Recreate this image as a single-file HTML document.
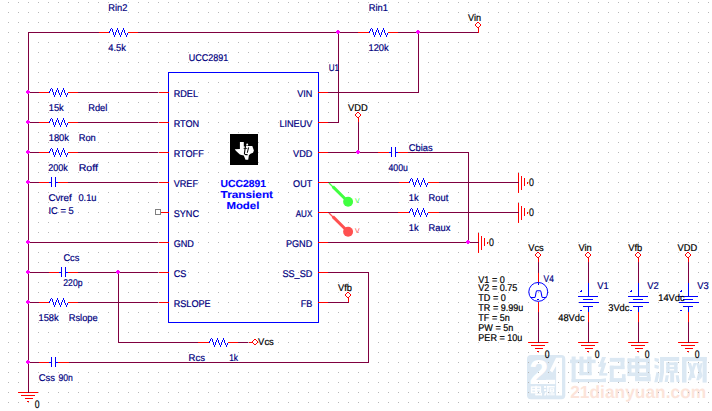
<!DOCTYPE html>
<html><head><meta charset="utf-8"><title>UCC2891 schematic</title>
<style>
html,body{margin:0;padding:0;background:#fff;}
body{width:712px;height:411px;overflow:hidden;}
svg{display:block;font-family:"Liberation Sans",sans-serif;}
text{text-rendering:geometricPrecision;}
</style></head><body>
<svg width="712" height="411" viewBox="0 0 712 411">
<defs><pattern id="grid" x="0" y="0" width="10" height="10" patternUnits="userSpaceOnUse"><rect x="8" y="2" width="1" height="1" fill="#b8b8b8"/></pattern></defs>
<rect width="712" height="411" fill="#fff"/>
<g id="wm">
<rect x="527" y="355" width="38.3" height="44.3" rx="4" fill="#dbe8f3"/>
<text x="529.3" y="384.1" fill="#fff" font-size="34.5" font-weight="bold">2</text>
<polygon points="556.1,357.8 562,357.8 562,395.5 556.1,395.5 556.1,366 552.3,372.5 549.8,370.5" fill="#fff"/>
<rect x="546" y="379.8" width="9.2" height="4.3" fill="#fff"/>
<rect x="530.8" y="386.3" width="10.3" height="7.0" fill="#fff"/>
<rect x="532.3" y="387.8" width="2.9" height="1.1" fill="#dbe8f3"/>
<rect x="532.3" y="390.6" width="2.9" height="1.1" fill="#dbe8f3"/>
<rect x="537.0" y="387.8" width="2.9" height="1.1" fill="#dbe8f3"/>
<rect x="537.0" y="390.6" width="2.9" height="1.1" fill="#dbe8f3"/>
<rect x="535.4" y="385.7" width="1.3" height="9.5" fill="#fff"/>
<rect x="535.4" y="394.0" width="6.6" height="1.4" fill="#fff"/>
<rect x="540.8" y="392.8" width="1.2" height="2.6" fill="#fff"/>
<rect x="544.0" y="386.0" width="2.2" height="1.9" fill="#fff"/>
<rect x="544.0" y="389.2" width="2.2" height="1.9" fill="#fff"/>
<polygon points="544,395.4 545.2,392.2 546.9,392.2 545.9,395.4" fill="#fff"/>
<rect x="547.2" y="386.0" width="7.5" height="1.5" fill="#fff"/>
<rect x="547.2" y="386.0" width="1.5" height="9.4" fill="#fff"/>
<rect x="549.6" y="388.3" width="4.6" height="4.0" fill="#fff"/>
<rect x="550.8" y="389.4" width="2.2" height="0.8" fill="#dbe8f3"/>
<rect x="550.8" y="390.9" width="2.2" height="0.5" fill="#dbe8f3"/>
<rect x="551.3" y="392.3" width="1.4" height="3.1" fill="#fff"/>
<rect x="549.4" y="393.2" width="1.2" height="2.2" fill="#fff"/>
<rect x="553.3" y="393.2" width="1.2" height="2.2" fill="#fff"/>
<rect x="570.04" y="359.55" width="25.62" height="3.60" fill="#dbe8f3"/>
<rect x="571.62" y="356.52" width="4.04" height="25.62" fill="#dbe8f3"/>
<rect x="579.48" y="356.52" width="4.04" height="18.65" fill="#dbe8f3"/>
<rect x="587.12" y="356.52" width="4.49" height="18.65" fill="#dbe8f3"/>
<rect x="579.48" y="372.02" width="12.13" height="3.15" fill="#dbe8f3"/>
<rect x="571.62" y="378.99" width="34.38" height="3.15" fill="#dbe8f3"/>
<polygon points="602.00,357.00 606.00,357.00 602.00,366.80 598.50,366.80" fill="#dbe8f3"/>
<polygon points="598.50,364.60 604.50,364.60 603.40,366.80 598.50,366.80" fill="#dbe8f3"/>
<polygon points="602.90,362.80 606.40,362.80 602.90,373.60 599.10,373.60" fill="#dbe8f3"/>
<polygon points="599.10,373.10 607.30,373.10 607.30,375.60 599.10,375.60" fill="#dbe8f3"/>
<polygon points="596.60,379.40 606.00,378.20 606.00,381.60 596.60,382.10" fill="#dbe8f3"/>
<rect x="609.82" y="357.87" width="14.61" height="3.93" fill="#dbe8f3"/>
<rect x="620.49" y="357.87" width="3.93" height="11.24" fill="#dbe8f3"/>
<rect x="609.82" y="365.73" width="14.61" height="3.37" fill="#dbe8f3"/>
<rect x="609.82" y="365.73" width="3.93" height="16.29" fill="#dbe8f3"/>
<rect x="609.82" y="378.09" width="15.73" height="3.93" fill="#dbe8f3"/>
<rect x="621.96" y="374.16" width="3.60" height="7.87" fill="#dbe8f3"/>
<rect x="627.57" y="358.43" width="3.93" height="17.64" fill="#dbe8f3"/>
<rect x="627.51" y="358.43" width="22.47" height="3.71" fill="#dbe8f3"/>
<rect x="646.04" y="358.43" width="3.93" height="17.64" fill="#dbe8f3"/>
<rect x="627.51" y="365.17" width="22.47" height="3.37" fill="#dbe8f3"/>
<rect x="627.51" y="372.47" width="22.47" height="3.60" fill="#dbe8f3"/>
<rect x="635.15" y="356.18" width="4.27" height="24.16" fill="#dbe8f3"/>
<rect x="635.15" y="376.97" width="15.39" height="4.27" fill="#dbe8f3"/>
<rect x="646.83" y="374.16" width="3.71" height="7.08" fill="#dbe8f3"/>
<polygon points="654.47,357.64 658.97,358.76 658.52,362.13 654.47,361.01" fill="#dbe8f3"/>
<polygon points="654.47,364.61 658.97,365.73 658.52,369.10 654.47,367.98" fill="#dbe8f3"/>
<polygon points="656.49,371.91 659.53,373.03 657.62,382.36 654.25,382.36" fill="#dbe8f3"/>
<rect x="660.09" y="356.97" width="19.10" height="4.04" fill="#dbe8f3"/>
<polygon points="660.09,356.97 664.02,356.97 664.02,372.47 662.34,382.36 658.74,382.36 660.09,372.47" fill="#dbe8f3"/>
<rect x="666.27" y="362.36" width="11.24" height="2.81" fill="#dbe8f3"/>
<rect x="666.27" y="362.36" width="3.37" height="10.67" fill="#dbe8f3"/>
<rect x="674.13" y="362.36" width="3.37" height="10.67" fill="#dbe8f3"/>
<rect x="666.27" y="366.85" width="11.24" height="2.25" fill="#dbe8f3"/>
<rect x="666.27" y="370.45" width="11.24" height="2.58" fill="#dbe8f3"/>
<rect x="670.20" y="372.47" width="3.93" height="9.89" fill="#dbe8f3"/>
<polygon points="665.71,375.28 668.85,375.28 667.73,382.02 664.58,382.02" fill="#dbe8f3"/>
<polygon points="675.60,375.28 678.63,375.28 679.75,382.02 676.72,382.02" fill="#dbe8f3"/>
<rect x="682.00" y="356.97" width="4.49" height="25.62" fill="#dbe8f3"/>
<rect x="682.00" y="356.97" width="24.72" height="4.27" fill="#dbe8f3"/>
<rect x="702.56" y="356.97" width="4.16" height="25.62" fill="#dbe8f3"/>
<polygon points="687.62,362.92 690.99,362.92 695.48,378.09 692.11,378.09" fill="#dbe8f3"/>
<polygon points="693.57,362.92 696.61,362.92 690.99,380.34 687.84,380.34" fill="#dbe8f3"/>
<polygon points="696.04,362.92 699.19,362.92 702.56,375.84 700.54,379.44" fill="#dbe8f3"/>
<polygon points="700.54,362.92 702.56,362.92 699.42,380.34 696.27,380.34" fill="#dbe8f3"/>
<text x="570.2" y="397.9" fill="#fce4da" font-size="17.5" font-weight="bold" textLength="136" lengthAdjust="spacingAndGlyphs">21dianyuan.com</text>
</g>
<rect width="712" height="411" fill="url(#grid)"/>
<g id="lines" transform="translate(0.5,0.5)" shape-rendering="crispEdges">
<rect x="97.5" y="31.5" width="11" height="1" fill="#ff0000"/>
<rect x="127.5" y="31.5" width="11" height="1" fill="#ff0000"/>
<rect x="108.5" y="30.5" width="1" height="2" fill="#0000ff"/>
<rect x="109.5" y="28.5" width="1" height="2" fill="#0000ff"/>
<rect x="110.5" y="27.5" width="1" height="1" fill="#0000ff"/>
<rect x="111.5" y="28.5" width="1" height="3" fill="#0000ff"/>
<rect x="112.5" y="31.5" width="1" height="3" fill="#0000ff"/>
<rect x="113.5" y="34.5" width="1" height="2" fill="#0000ff"/>
<rect x="114.5" y="31.5" width="1" height="3" fill="#0000ff"/>
<rect x="115.5" y="29.5" width="1" height="2" fill="#0000ff"/>
<rect x="116.5" y="27.5" width="1" height="2" fill="#0000ff"/>
<rect x="117.5" y="29.5" width="1" height="3" fill="#0000ff"/>
<rect x="118.5" y="32.5" width="1" height="2" fill="#0000ff"/>
<rect x="119.5" y="34.5" width="1" height="2" fill="#0000ff"/>
<rect x="120.5" y="31.5" width="1" height="3" fill="#0000ff"/>
<rect x="121.5" y="29.5" width="1" height="2" fill="#0000ff"/>
<rect x="122.5" y="27.5" width="1" height="2" fill="#0000ff"/>
<rect x="123.5" y="29.5" width="1" height="3" fill="#0000ff"/>
<rect x="124.5" y="32.5" width="1" height="2" fill="#0000ff"/>
<rect x="125.5" y="34.5" width="1" height="2" fill="#0000ff"/>
<rect x="126.5" y="32.5" width="1" height="2" fill="#0000ff"/>
<rect x="357.5" y="31.5" width="11" height="1" fill="#ff0000"/>
<rect x="387.5" y="31.5" width="11" height="1" fill="#ff0000"/>
<rect x="368.5" y="30.5" width="1" height="2" fill="#0000ff"/>
<rect x="369.5" y="28.5" width="1" height="2" fill="#0000ff"/>
<rect x="370.5" y="27.5" width="1" height="1" fill="#0000ff"/>
<rect x="371.5" y="28.5" width="1" height="3" fill="#0000ff"/>
<rect x="372.5" y="31.5" width="1" height="3" fill="#0000ff"/>
<rect x="373.5" y="34.5" width="1" height="2" fill="#0000ff"/>
<rect x="374.5" y="31.5" width="1" height="3" fill="#0000ff"/>
<rect x="375.5" y="29.5" width="1" height="2" fill="#0000ff"/>
<rect x="376.5" y="27.5" width="1" height="2" fill="#0000ff"/>
<rect x="377.5" y="29.5" width="1" height="3" fill="#0000ff"/>
<rect x="378.5" y="32.5" width="1" height="2" fill="#0000ff"/>
<rect x="379.5" y="34.5" width="1" height="2" fill="#0000ff"/>
<rect x="380.5" y="31.5" width="1" height="3" fill="#0000ff"/>
<rect x="381.5" y="29.5" width="1" height="2" fill="#0000ff"/>
<rect x="382.5" y="27.5" width="1" height="2" fill="#0000ff"/>
<rect x="383.5" y="29.5" width="1" height="3" fill="#0000ff"/>
<rect x="384.5" y="32.5" width="1" height="2" fill="#0000ff"/>
<rect x="385.5" y="34.5" width="1" height="2" fill="#0000ff"/>
<rect x="386.5" y="32.5" width="1" height="2" fill="#0000ff"/>
<rect x="477.5" y="27.5" width="1" height="5" fill="#ff0000"/>
<rect x="37.5" y="91.5" width="11" height="1" fill="#ff0000"/>
<rect x="67.5" y="91.5" width="11" height="1" fill="#ff0000"/>
<rect x="48.5" y="90.5" width="1" height="2" fill="#0000ff"/>
<rect x="49.5" y="88.5" width="1" height="2" fill="#0000ff"/>
<rect x="50.5" y="87.5" width="1" height="1" fill="#0000ff"/>
<rect x="51.5" y="88.5" width="1" height="3" fill="#0000ff"/>
<rect x="52.5" y="91.5" width="1" height="3" fill="#0000ff"/>
<rect x="53.5" y="94.5" width="1" height="2" fill="#0000ff"/>
<rect x="54.5" y="91.5" width="1" height="3" fill="#0000ff"/>
<rect x="55.5" y="89.5" width="1" height="2" fill="#0000ff"/>
<rect x="56.5" y="87.5" width="1" height="2" fill="#0000ff"/>
<rect x="57.5" y="89.5" width="1" height="3" fill="#0000ff"/>
<rect x="58.5" y="92.5" width="1" height="2" fill="#0000ff"/>
<rect x="59.5" y="94.5" width="1" height="2" fill="#0000ff"/>
<rect x="60.5" y="91.5" width="1" height="3" fill="#0000ff"/>
<rect x="61.5" y="89.5" width="1" height="2" fill="#0000ff"/>
<rect x="62.5" y="87.5" width="1" height="2" fill="#0000ff"/>
<rect x="63.5" y="89.5" width="1" height="3" fill="#0000ff"/>
<rect x="64.5" y="92.5" width="1" height="2" fill="#0000ff"/>
<rect x="65.5" y="94.5" width="1" height="2" fill="#0000ff"/>
<rect x="66.5" y="92.5" width="1" height="2" fill="#0000ff"/>
<rect x="37.5" y="121.5" width="11" height="1" fill="#ff0000"/>
<rect x="67.5" y="121.5" width="11" height="1" fill="#ff0000"/>
<rect x="48.5" y="120.5" width="1" height="2" fill="#0000ff"/>
<rect x="49.5" y="118.5" width="1" height="2" fill="#0000ff"/>
<rect x="50.5" y="117.5" width="1" height="1" fill="#0000ff"/>
<rect x="51.5" y="118.5" width="1" height="3" fill="#0000ff"/>
<rect x="52.5" y="121.5" width="1" height="3" fill="#0000ff"/>
<rect x="53.5" y="124.5" width="1" height="2" fill="#0000ff"/>
<rect x="54.5" y="121.5" width="1" height="3" fill="#0000ff"/>
<rect x="55.5" y="119.5" width="1" height="2" fill="#0000ff"/>
<rect x="56.5" y="117.5" width="1" height="2" fill="#0000ff"/>
<rect x="57.5" y="119.5" width="1" height="3" fill="#0000ff"/>
<rect x="58.5" y="122.5" width="1" height="2" fill="#0000ff"/>
<rect x="59.5" y="124.5" width="1" height="2" fill="#0000ff"/>
<rect x="60.5" y="121.5" width="1" height="3" fill="#0000ff"/>
<rect x="61.5" y="119.5" width="1" height="2" fill="#0000ff"/>
<rect x="62.5" y="117.5" width="1" height="2" fill="#0000ff"/>
<rect x="63.5" y="119.5" width="1" height="3" fill="#0000ff"/>
<rect x="64.5" y="122.5" width="1" height="2" fill="#0000ff"/>
<rect x="65.5" y="124.5" width="1" height="2" fill="#0000ff"/>
<rect x="66.5" y="122.5" width="1" height="2" fill="#0000ff"/>
<rect x="37.5" y="151.5" width="11" height="1" fill="#ff0000"/>
<rect x="67.5" y="151.5" width="11" height="1" fill="#ff0000"/>
<rect x="48.5" y="150.5" width="1" height="2" fill="#0000ff"/>
<rect x="49.5" y="148.5" width="1" height="2" fill="#0000ff"/>
<rect x="50.5" y="147.5" width="1" height="1" fill="#0000ff"/>
<rect x="51.5" y="148.5" width="1" height="3" fill="#0000ff"/>
<rect x="52.5" y="151.5" width="1" height="3" fill="#0000ff"/>
<rect x="53.5" y="154.5" width="1" height="2" fill="#0000ff"/>
<rect x="54.5" y="151.5" width="1" height="3" fill="#0000ff"/>
<rect x="55.5" y="149.5" width="1" height="2" fill="#0000ff"/>
<rect x="56.5" y="147.5" width="1" height="2" fill="#0000ff"/>
<rect x="57.5" y="149.5" width="1" height="3" fill="#0000ff"/>
<rect x="58.5" y="152.5" width="1" height="2" fill="#0000ff"/>
<rect x="59.5" y="154.5" width="1" height="2" fill="#0000ff"/>
<rect x="60.5" y="151.5" width="1" height="3" fill="#0000ff"/>
<rect x="61.5" y="149.5" width="1" height="2" fill="#0000ff"/>
<rect x="62.5" y="147.5" width="1" height="2" fill="#0000ff"/>
<rect x="63.5" y="149.5" width="1" height="3" fill="#0000ff"/>
<rect x="64.5" y="152.5" width="1" height="2" fill="#0000ff"/>
<rect x="65.5" y="154.5" width="1" height="2" fill="#0000ff"/>
<rect x="66.5" y="152.5" width="1" height="2" fill="#0000ff"/>
<rect x="37.5" y="301.5" width="11" height="1" fill="#ff0000"/>
<rect x="67.5" y="301.5" width="11" height="1" fill="#ff0000"/>
<rect x="48.5" y="300.5" width="1" height="2" fill="#0000ff"/>
<rect x="49.5" y="298.5" width="1" height="2" fill="#0000ff"/>
<rect x="50.5" y="297.5" width="1" height="1" fill="#0000ff"/>
<rect x="51.5" y="298.5" width="1" height="3" fill="#0000ff"/>
<rect x="52.5" y="301.5" width="1" height="3" fill="#0000ff"/>
<rect x="53.5" y="304.5" width="1" height="2" fill="#0000ff"/>
<rect x="54.5" y="301.5" width="1" height="3" fill="#0000ff"/>
<rect x="55.5" y="299.5" width="1" height="2" fill="#0000ff"/>
<rect x="56.5" y="297.5" width="1" height="2" fill="#0000ff"/>
<rect x="57.5" y="299.5" width="1" height="3" fill="#0000ff"/>
<rect x="58.5" y="302.5" width="1" height="2" fill="#0000ff"/>
<rect x="59.5" y="304.5" width="1" height="2" fill="#0000ff"/>
<rect x="60.5" y="301.5" width="1" height="3" fill="#0000ff"/>
<rect x="61.5" y="299.5" width="1" height="2" fill="#0000ff"/>
<rect x="62.5" y="297.5" width="1" height="2" fill="#0000ff"/>
<rect x="63.5" y="299.5" width="1" height="3" fill="#0000ff"/>
<rect x="64.5" y="302.5" width="1" height="2" fill="#0000ff"/>
<rect x="65.5" y="304.5" width="1" height="2" fill="#0000ff"/>
<rect x="66.5" y="302.5" width="1" height="2" fill="#0000ff"/>
<rect x="37.5" y="181.5" width="11" height="1" fill="#ff0000"/>
<rect x="48.5" y="181.5" width="3" height="1" fill="#0000ff"/>
<rect x="50.5" y="176.5" width="1" height="10" fill="#0000ff"/>
<rect x="54.5" y="176.5" width="1" height="10" fill="#0000ff"/>
<rect x="54.5" y="181.5" width="4" height="1" fill="#0000ff"/>
<rect x="57.5" y="181.5" width="11" height="1" fill="#ff0000"/>
<rect x="47.5" y="271.5" width="11" height="1" fill="#ff0000"/>
<rect x="58.5" y="271.5" width="3" height="1" fill="#0000ff"/>
<rect x="60.5" y="266.5" width="1" height="10" fill="#0000ff"/>
<rect x="64.5" y="266.5" width="1" height="10" fill="#0000ff"/>
<rect x="64.5" y="271.5" width="4" height="1" fill="#0000ff"/>
<rect x="67.5" y="271.5" width="11" height="1" fill="#ff0000"/>
<rect x="197.5" y="341.5" width="11" height="1" fill="#ff0000"/>
<rect x="227.5" y="341.5" width="11" height="1" fill="#ff0000"/>
<rect x="208.5" y="340.5" width="1" height="2" fill="#0000ff"/>
<rect x="209.5" y="338.5" width="1" height="2" fill="#0000ff"/>
<rect x="210.5" y="337.5" width="1" height="1" fill="#0000ff"/>
<rect x="211.5" y="338.5" width="1" height="3" fill="#0000ff"/>
<rect x="212.5" y="341.5" width="1" height="3" fill="#0000ff"/>
<rect x="213.5" y="344.5" width="1" height="2" fill="#0000ff"/>
<rect x="214.5" y="341.5" width="1" height="3" fill="#0000ff"/>
<rect x="215.5" y="339.5" width="1" height="2" fill="#0000ff"/>
<rect x="216.5" y="337.5" width="1" height="2" fill="#0000ff"/>
<rect x="217.5" y="339.5" width="1" height="3" fill="#0000ff"/>
<rect x="218.5" y="342.5" width="1" height="2" fill="#0000ff"/>
<rect x="219.5" y="344.5" width="1" height="2" fill="#0000ff"/>
<rect x="220.5" y="341.5" width="1" height="3" fill="#0000ff"/>
<rect x="221.5" y="339.5" width="1" height="2" fill="#0000ff"/>
<rect x="222.5" y="337.5" width="1" height="2" fill="#0000ff"/>
<rect x="223.5" y="339.5" width="1" height="3" fill="#0000ff"/>
<rect x="224.5" y="342.5" width="1" height="2" fill="#0000ff"/>
<rect x="225.5" y="344.5" width="1" height="2" fill="#0000ff"/>
<rect x="226.5" y="342.5" width="1" height="2" fill="#0000ff"/>
<rect x="248.5" y="341.5" width="4" height="1" fill="#ff0000"/>
<rect x="37.5" y="361.5" width="11" height="1" fill="#ff0000"/>
<rect x="48.5" y="361.5" width="3" height="1" fill="#0000ff"/>
<rect x="50.5" y="356.5" width="1" height="10" fill="#0000ff"/>
<rect x="54.5" y="356.5" width="1" height="10" fill="#0000ff"/>
<rect x="54.5" y="361.5" width="4" height="1" fill="#0000ff"/>
<rect x="57.5" y="361.5" width="11" height="1" fill="#ff0000"/>
<rect x="347.5" y="297.5" width="1" height="5" fill="#ff0000"/>
<rect x="377.5" y="151.5" width="11" height="1" fill="#ff0000"/>
<rect x="388.5" y="151.5" width="3" height="1" fill="#0000ff"/>
<rect x="390.5" y="146.5" width="1" height="10" fill="#0000ff"/>
<rect x="394.5" y="146.5" width="1" height="10" fill="#0000ff"/>
<rect x="394.5" y="151.5" width="4" height="1" fill="#0000ff"/>
<rect x="397.5" y="151.5" width="11" height="1" fill="#ff0000"/>
<rect x="357.5" y="117.5" width="1" height="5" fill="#ff0000"/>
<rect x="397.5" y="181.5" width="11" height="1" fill="#ff0000"/>
<rect x="427.5" y="181.5" width="11" height="1" fill="#ff0000"/>
<rect x="408.5" y="180.5" width="1" height="2" fill="#0000ff"/>
<rect x="409.5" y="178.5" width="1" height="2" fill="#0000ff"/>
<rect x="410.5" y="177.5" width="1" height="1" fill="#0000ff"/>
<rect x="411.5" y="178.5" width="1" height="3" fill="#0000ff"/>
<rect x="412.5" y="181.5" width="1" height="3" fill="#0000ff"/>
<rect x="413.5" y="184.5" width="1" height="2" fill="#0000ff"/>
<rect x="414.5" y="181.5" width="1" height="3" fill="#0000ff"/>
<rect x="415.5" y="179.5" width="1" height="2" fill="#0000ff"/>
<rect x="416.5" y="177.5" width="1" height="2" fill="#0000ff"/>
<rect x="417.5" y="179.5" width="1" height="3" fill="#0000ff"/>
<rect x="418.5" y="182.5" width="1" height="2" fill="#0000ff"/>
<rect x="419.5" y="184.5" width="1" height="2" fill="#0000ff"/>
<rect x="420.5" y="181.5" width="1" height="3" fill="#0000ff"/>
<rect x="421.5" y="179.5" width="1" height="2" fill="#0000ff"/>
<rect x="422.5" y="177.5" width="1" height="2" fill="#0000ff"/>
<rect x="423.5" y="179.5" width="1" height="3" fill="#0000ff"/>
<rect x="424.5" y="182.5" width="1" height="2" fill="#0000ff"/>
<rect x="425.5" y="184.5" width="1" height="2" fill="#0000ff"/>
<rect x="426.5" y="182.5" width="1" height="2" fill="#0000ff"/>
<rect x="517.5" y="172.5" width="1" height="20" fill="#ff0000"/>
<rect x="520.5" y="175.5" width="1" height="14" fill="#ff0000"/>
<rect x="523.5" y="177.5" width="1" height="8" fill="#ff0000"/>
<rect x="526.5" y="181.5" width="1" height="2" fill="#ff0000"/>
<rect x="397.5" y="211.5" width="11" height="1" fill="#ff0000"/>
<rect x="427.5" y="211.5" width="11" height="1" fill="#ff0000"/>
<rect x="408.5" y="210.5" width="1" height="2" fill="#0000ff"/>
<rect x="409.5" y="208.5" width="1" height="2" fill="#0000ff"/>
<rect x="410.5" y="207.5" width="1" height="1" fill="#0000ff"/>
<rect x="411.5" y="208.5" width="1" height="3" fill="#0000ff"/>
<rect x="412.5" y="211.5" width="1" height="3" fill="#0000ff"/>
<rect x="413.5" y="214.5" width="1" height="2" fill="#0000ff"/>
<rect x="414.5" y="211.5" width="1" height="3" fill="#0000ff"/>
<rect x="415.5" y="209.5" width="1" height="2" fill="#0000ff"/>
<rect x="416.5" y="207.5" width="1" height="2" fill="#0000ff"/>
<rect x="417.5" y="209.5" width="1" height="3" fill="#0000ff"/>
<rect x="418.5" y="212.5" width="1" height="2" fill="#0000ff"/>
<rect x="419.5" y="214.5" width="1" height="2" fill="#0000ff"/>
<rect x="420.5" y="211.5" width="1" height="3" fill="#0000ff"/>
<rect x="421.5" y="209.5" width="1" height="2" fill="#0000ff"/>
<rect x="422.5" y="207.5" width="1" height="2" fill="#0000ff"/>
<rect x="423.5" y="209.5" width="1" height="3" fill="#0000ff"/>
<rect x="424.5" y="212.5" width="1" height="2" fill="#0000ff"/>
<rect x="425.5" y="214.5" width="1" height="2" fill="#0000ff"/>
<rect x="426.5" y="212.5" width="1" height="2" fill="#0000ff"/>
<rect x="517.5" y="202.5" width="1" height="20" fill="#ff0000"/>
<rect x="520.5" y="205.5" width="1" height="14" fill="#ff0000"/>
<rect x="523.5" y="207.5" width="1" height="8" fill="#ff0000"/>
<rect x="526.5" y="211.5" width="1" height="2" fill="#ff0000"/>
<rect x="477.5" y="232.5" width="1" height="20" fill="#ff0000"/>
<rect x="480.5" y="235.5" width="1" height="14" fill="#ff0000"/>
<rect x="483.5" y="237.5" width="1" height="8" fill="#ff0000"/>
<rect x="486.5" y="241.5" width="1" height="2" fill="#ff0000"/>
<rect x="168" y="72" width="150" height="250" fill="none" stroke="#0000ff" stroke-width="1"/>
<rect x="158.5" y="91.5" width="10" height="1" fill="#ff0000"/>
<rect x="317.5" y="91.5" width="11" height="1" fill="#ff0000"/>
<rect x="158.5" y="121.5" width="10" height="1" fill="#ff0000"/>
<rect x="317.5" y="121.5" width="11" height="1" fill="#ff0000"/>
<rect x="158.5" y="151.5" width="10" height="1" fill="#ff0000"/>
<rect x="317.5" y="151.5" width="11" height="1" fill="#ff0000"/>
<rect x="158.5" y="181.5" width="10" height="1" fill="#ff0000"/>
<rect x="317.5" y="181.5" width="11" height="1" fill="#ff0000"/>
<rect x="160.5" y="211.5" width="8" height="1" fill="#ff0000"/>
<rect x="155" y="209" width="5" height="5" fill="#fff" stroke="#808080" stroke-width="1"/>
<rect x="317.5" y="211.5" width="11" height="1" fill="#ff0000"/>
<rect x="158.5" y="241.5" width="10" height="1" fill="#ff0000"/>
<rect x="317.5" y="241.5" width="11" height="1" fill="#ff0000"/>
<rect x="158.5" y="271.5" width="10" height="1" fill="#ff0000"/>
<rect x="317.5" y="271.5" width="11" height="1" fill="#ff0000"/>
<rect x="158.5" y="301.5" width="10" height="1" fill="#ff0000"/>
<rect x="317.5" y="301.5" width="11" height="1" fill="#ff0000"/>
<rect x="17.5" y="391.5" width="20" height="1" fill="#ff0000"/>
<rect x="20.5" y="394.5" width="14" height="1" fill="#ff0000"/>
<rect x="24.5" y="397.5" width="8" height="1" fill="#ff0000"/>
<rect x="26.5" y="400.5" width="2" height="1" fill="#ff0000"/>
<rect x="537.5" y="257.5" width="1" height="5" fill="#ff0000"/>
<rect x="537.5" y="271.5" width="1" height="11" fill="#ff0000"/>
<rect x="537.5" y="282.5" width="1" height="2" fill="#0000ff"/>
<rect x="536.5" y="298.5" width="2" height="1" fill="#0000ff"/>
<rect x="537.5" y="301.5" width="1" height="11" fill="#ff0000"/>
<rect x="527.5" y="341.5" width="20" height="1" fill="#ff0000"/>
<rect x="530.5" y="344.5" width="14" height="1" fill="#ff0000"/>
<rect x="534.5" y="347.5" width="8" height="1" fill="#ff0000"/>
<rect x="536.5" y="350.5" width="2" height="1" fill="#ff0000"/>
<rect x="587.5" y="257.5" width="1" height="5" fill="#ff0000"/>
<rect x="587.5" y="281.5" width="1" height="15" fill="#0000ff"/>
<rect x="577.5" y="295.5" width="20" height="1" fill="#0000ff"/>
<rect x="582.5" y="298.5" width="10" height="1" fill="#0000ff"/>
<rect x="578.5" y="301.5" width="20" height="1" fill="#0000ff"/>
<rect x="582.5" y="305.5" width="10" height="1" fill="#0000ff"/>
<rect x="587.5" y="305.5" width="1" height="7" fill="#0000ff"/>
<rect x="587.5" y="311.5" width="1" height="11" fill="#ff0000"/>
<rect x="580.5" y="289.5" width="1" height="1" fill="#0000ff"/>
<rect x="579.5" y="290.5" width="2" height="1" fill="#0000ff"/>
<rect x="579.5" y="309.5" width="2" height="1" fill="#0000ff"/>
<rect x="577.5" y="341.5" width="20" height="1" fill="#ff0000"/>
<rect x="580.5" y="344.5" width="14" height="1" fill="#ff0000"/>
<rect x="584.5" y="347.5" width="8" height="1" fill="#ff0000"/>
<rect x="586.5" y="350.5" width="2" height="1" fill="#ff0000"/>
<rect x="637.5" y="257.5" width="1" height="5" fill="#ff0000"/>
<rect x="637.5" y="281.5" width="1" height="15" fill="#0000ff"/>
<rect x="627.5" y="295.5" width="20" height="1" fill="#0000ff"/>
<rect x="632.5" y="298.5" width="10" height="1" fill="#0000ff"/>
<rect x="628.5" y="301.5" width="20" height="1" fill="#0000ff"/>
<rect x="632.5" y="305.5" width="10" height="1" fill="#0000ff"/>
<rect x="637.5" y="305.5" width="1" height="7" fill="#0000ff"/>
<rect x="637.5" y="311.5" width="1" height="11" fill="#ff0000"/>
<rect x="630.5" y="289.5" width="1" height="1" fill="#0000ff"/>
<rect x="629.5" y="290.5" width="2" height="1" fill="#0000ff"/>
<rect x="629.5" y="309.5" width="2" height="1" fill="#0000ff"/>
<rect x="627.5" y="341.5" width="20" height="1" fill="#ff0000"/>
<rect x="630.5" y="344.5" width="14" height="1" fill="#ff0000"/>
<rect x="634.5" y="347.5" width="8" height="1" fill="#ff0000"/>
<rect x="636.5" y="350.5" width="2" height="1" fill="#ff0000"/>
<rect x="687.5" y="257.5" width="1" height="5" fill="#ff0000"/>
<rect x="687.5" y="281.5" width="1" height="15" fill="#0000ff"/>
<rect x="677.5" y="295.5" width="20" height="1" fill="#0000ff"/>
<rect x="682.5" y="298.5" width="10" height="1" fill="#0000ff"/>
<rect x="678.5" y="301.5" width="20" height="1" fill="#0000ff"/>
<rect x="682.5" y="305.5" width="10" height="1" fill="#0000ff"/>
<rect x="687.5" y="305.5" width="1" height="7" fill="#0000ff"/>
<rect x="687.5" y="311.5" width="1" height="11" fill="#ff0000"/>
<rect x="680.5" y="289.5" width="1" height="1" fill="#0000ff"/>
<rect x="679.5" y="290.5" width="2" height="1" fill="#0000ff"/>
<rect x="679.5" y="309.5" width="2" height="1" fill="#0000ff"/>
<rect x="677.5" y="341.5" width="20" height="1" fill="#ff0000"/>
<rect x="680.5" y="344.5" width="14" height="1" fill="#ff0000"/>
<rect x="684.5" y="347.5" width="8" height="1" fill="#ff0000"/>
<rect x="686.5" y="350.5" width="2" height="1" fill="#ff0000"/>
<rect x="27.5" y="31.5" width="1" height="361" fill="#800040"/>
<rect x="27.5" y="31.5" width="71" height="1" fill="#800040"/>
<rect x="137.5" y="31.5" width="220" height="1" fill="#800040"/>
<rect x="397.5" y="31.5" width="80" height="1" fill="#800040"/>
<rect x="337.5" y="31.5" width="1" height="91" fill="#800040"/>
<rect x="327.5" y="121.5" width="11" height="1" fill="#800040"/>
<rect x="417.5" y="31.5" width="1" height="61" fill="#800040"/>
<rect x="327.5" y="91.5" width="91" height="1" fill="#800040"/>
<rect x="27.5" y="91.5" width="11" height="1" fill="#800040"/>
<rect x="77.5" y="91.5" width="80" height="1" fill="#800040"/>
<rect x="27.5" y="121.5" width="11" height="1" fill="#800040"/>
<rect x="77.5" y="121.5" width="80" height="1" fill="#800040"/>
<rect x="27.5" y="151.5" width="11" height="1" fill="#800040"/>
<rect x="77.5" y="151.5" width="80" height="1" fill="#800040"/>
<rect x="27.5" y="301.5" width="11" height="1" fill="#800040"/>
<rect x="77.5" y="301.5" width="80" height="1" fill="#800040"/>
<rect x="27.5" y="181.5" width="11" height="1" fill="#800040"/>
<rect x="67.5" y="181.5" width="90" height="1" fill="#800040"/>
<rect x="27.5" y="241.5" width="130" height="1" fill="#800040"/>
<rect x="27.5" y="271.5" width="21" height="1" fill="#800040"/>
<rect x="77.5" y="271.5" width="80" height="1" fill="#800040"/>
<rect x="117.5" y="271.5" width="1" height="71" fill="#800040"/>
<rect x="117.5" y="341.5" width="80" height="1" fill="#800040"/>
<rect x="237.5" y="341.5" width="10" height="1" fill="#800040"/>
<rect x="27.5" y="361.5" width="11" height="1" fill="#800040"/>
<rect x="68.5" y="361.5" width="300" height="1" fill="#800040"/>
<rect x="367.5" y="271.5" width="1" height="91" fill="#800040"/>
<rect x="327.5" y="271.5" width="41" height="1" fill="#800040"/>
<rect x="327.5" y="301.5" width="21" height="1" fill="#800040"/>
<rect x="327.5" y="151.5" width="50" height="1" fill="#800040"/>
<rect x="407.5" y="151.5" width="61" height="1" fill="#800040"/>
<rect x="467.5" y="151.5" width="1" height="91" fill="#800040"/>
<rect x="357.5" y="121.5" width="1" height="31" fill="#800040"/>
<rect x="327.5" y="181.5" width="71" height="1" fill="#800040"/>
<rect x="438.5" y="181.5" width="80" height="1" fill="#800040"/>
<rect x="327.5" y="211.5" width="70" height="1" fill="#800040"/>
<rect x="438.5" y="211.5" width="80" height="1" fill="#800040"/>
<rect x="327.5" y="241.5" width="151" height="1" fill="#800040"/>
<rect x="537.5" y="261.5" width="1" height="11" fill="#800040"/>
<rect x="537.5" y="311.5" width="1" height="31" fill="#800040"/>
<rect x="587.5" y="261.5" width="1" height="21" fill="#800040"/>
<rect x="587.5" y="321.5" width="1" height="21" fill="#800040"/>
<rect x="637.5" y="261.5" width="1" height="21" fill="#800040"/>
<rect x="637.5" y="321.5" width="1" height="21" fill="#800040"/>
<rect x="687.5" y="261.5" width="1" height="21" fill="#800040"/>
<rect x="687.5" y="321.5" width="1" height="21" fill="#800040"/>
<rect x="25.5" y="90.5" width="4" height="2" fill="#ff00ff"/><rect x="26.5" y="89.5" width="2" height="4" fill="#ff00ff"/>
<rect x="25.5" y="120.5" width="4" height="2" fill="#ff00ff"/><rect x="26.5" y="119.5" width="2" height="4" fill="#ff00ff"/>
<rect x="25.5" y="150.5" width="4" height="2" fill="#ff00ff"/><rect x="26.5" y="149.5" width="2" height="4" fill="#ff00ff"/>
<rect x="25.5" y="180.5" width="4" height="2" fill="#ff00ff"/><rect x="26.5" y="179.5" width="2" height="4" fill="#ff00ff"/>
<rect x="25.5" y="240.5" width="4" height="2" fill="#ff00ff"/><rect x="26.5" y="239.5" width="2" height="4" fill="#ff00ff"/>
<rect x="25.5" y="270.5" width="4" height="2" fill="#ff00ff"/><rect x="26.5" y="269.5" width="2" height="4" fill="#ff00ff"/>
<rect x="25.5" y="300.5" width="4" height="2" fill="#ff00ff"/><rect x="26.5" y="299.5" width="2" height="4" fill="#ff00ff"/>
<rect x="25.5" y="360.5" width="4" height="2" fill="#ff00ff"/><rect x="26.5" y="359.5" width="2" height="4" fill="#ff00ff"/>
<rect x="115.5" y="270.5" width="4" height="2" fill="#ff00ff"/><rect x="116.5" y="269.5" width="2" height="4" fill="#ff00ff"/>
<rect x="335.5" y="30.5" width="4" height="2" fill="#ff00ff"/><rect x="336.5" y="29.5" width="2" height="4" fill="#ff00ff"/>
<rect x="415.5" y="30.5" width="4" height="2" fill="#ff00ff"/><rect x="416.5" y="29.5" width="2" height="4" fill="#ff00ff"/>
<rect x="355.5" y="150.5" width="4" height="2" fill="#ff00ff"/><rect x="356.5" y="149.5" width="2" height="4" fill="#ff00ff"/>
<rect x="465.5" y="240.5" width="4" height="2" fill="#ff00ff"/><rect x="466.5" y="239.5" width="2" height="4" fill="#ff00ff"/>
</g>
<g id="shapes">
<polygon points="478,22 481,25 478,28 475,25" fill="#fff" stroke="#ff0000" stroke-width="1"/>
<polygon points="255,339 258,342 255,345 252,342" fill="#fff" stroke="#ff0000" stroke-width="1"/>
<polygon points="348,292 351,295 348,298 345,295" fill="#fff" stroke="#ff0000" stroke-width="1"/>
<polygon points="358,112 361,115 358,118 355,115" fill="#fff" stroke="#ff0000" stroke-width="1"/>
<rect x="230" y="134" width="28" height="31" fill="#000"/>
<path d="M239.9,142 L243.8,142 L243.8,146.6 L245,146.6 L245.3,145.6 L248.6,146 L252.3,146.1 L253.9,150.6 L253,152.8 L250.5,153.8 L248.9,155.2 L248.2,159.8 L245.5,159.8 L243.8,155.6 L241.5,155 L239.9,154.5 L235.8,150.8 L234.8,149.3 L239.9,149 Z" fill="#fff"/>
<path d="M245.9,143.2 L244.4,153.6 Q244.4,154.8 247.6,154.6" fill="none" stroke="#000" stroke-width="1.1"/>
<path d="M248.6,147.4 L247.3,152.8" fill="none" stroke="#000" stroke-width="1"/>
<path d="M243.6,148.4 L247.2,148.4" fill="none" stroke="#000" stroke-width="0.8"/>
<circle cx="247.2" cy="144.6" r="1" fill="#fff"/>
<polygon points="538,252 541,255 538,258 535,255" fill="#fff" stroke="#ff0000" stroke-width="1"/>
<circle cx="538.25" cy="291.9" r="9.45" fill="none" stroke="#0000ff" stroke-width="1"/>
<path d="M530.6,297.5 L534.6,297.5 C536.1,297.5 535.4,290.7 537,290.7 L540.2,290.7 C541.8,290.7 541.1,297.5 542.6,297.5 L546.4,297.5" fill="none" stroke="#0000ff" stroke-width="1.05"/>
<polygon points="588,252 591,255 588,258 585,255" fill="#fff" stroke="#ff0000" stroke-width="1"/>
<polygon points="638,252 641,255 638,258 635,255" fill="#fff" stroke="#ff0000" stroke-width="1"/>
<polygon points="688,252 691,255 688,258 685,255" fill="#fff" stroke="#ff0000" stroke-width="1"/>
<line x1="329" y1="183" x2="334" y2="188" stroke="#40ff40" stroke-width="1.2"/>
<line x1="332.8" y1="186.6" x2="348.1" y2="201.8" stroke="#40ff40" stroke-width="3"/>
<circle cx="348.1" cy="201.8" r="4.95" fill="#40ff40"/>
<line x1="329" y1="213" x2="334" y2="218" stroke="#ff5050" stroke-width="1.2"/>
<line x1="332.8" y1="216.6" x2="348.1" y2="231.8" stroke="#ff5050" stroke-width="3"/>
<circle cx="348.1" cy="231.8" r="4.95" fill="#ff5050"/>
</g>
<g id="text">
<text transform="translate(468.00,21) scale(0.931,1)" fill="#000000" stroke="#000000" stroke-width="0.2" font-size="9.8">Vin</text>
<text transform="translate(258.10,345) scale(0.962,1)" fill="#000000" stroke="#000000" stroke-width="0.2" font-size="9.8">Vcs</text>
<text transform="translate(338.00,291) scale(0.950,1)" fill="#000000" stroke="#000000" stroke-width="0.2" font-size="9.8">Vfb</text>
<text transform="translate(348.00,111) scale(0.950,1)" fill="#000000" stroke="#000000" stroke-width="0.2" font-size="9.8">VDD</text>
<text transform="translate(528.90,186) scale(0.795,1)" fill="#000000" stroke="#000000" stroke-width="0.2" font-size="11.1">0</text>
<text transform="translate(528.90,216) scale(0.795,1)" fill="#000000" stroke="#000000" stroke-width="0.2" font-size="11.1">0</text>
<text transform="translate(488.90,246) scale(0.795,1)" fill="#000000" stroke="#000000" stroke-width="0.2" font-size="11.1">0</text>
<text transform="translate(173.70,97) scale(0.930,1)" fill="#000080" stroke="#000080" stroke-width="0.2" font-size="9.8">RDEL</text>
<text transform="translate(297.13,97) scale(0.930,1)" fill="#000080" stroke="#000080" stroke-width="0.2" font-size="9.8">VIN</text>
<text transform="translate(173.70,127) scale(0.930,1)" fill="#000080" stroke="#000080" stroke-width="0.2" font-size="9.8">RTON</text>
<text transform="translate(279.40,127) scale(0.930,1)" fill="#000080" stroke="#000080" stroke-width="0.2" font-size="9.8">LINEUV</text>
<text transform="translate(173.70,157) scale(0.930,1)" fill="#000080" stroke="#000080" stroke-width="0.2" font-size="9.8">RTOFF</text>
<text transform="translate(293.07,157) scale(0.930,1)" fill="#000080" stroke="#000080" stroke-width="0.2" font-size="9.8">VDD</text>
<text transform="translate(173.70,187) scale(0.930,1)" fill="#000080" stroke="#000080" stroke-width="0.2" font-size="9.8">VREF</text>
<text transform="translate(293.07,187) scale(0.930,1)" fill="#000080" stroke="#000080" stroke-width="0.2" font-size="9.8">OUT</text>
<text transform="translate(173.70,217) scale(0.930,1)" fill="#000080" stroke="#000080" stroke-width="0.2" font-size="9.8">SYNC</text>
<text transform="translate(295.70,217) scale(0.824,1)" fill="#000080" stroke="#000080" stroke-width="0.2" font-size="9.8">AUX</text>
<text transform="translate(173.70,247) scale(0.930,1)" fill="#000080" stroke="#000080" stroke-width="0.2" font-size="9.8">GND</text>
<text transform="translate(285.96,247) scale(0.930,1)" fill="#000080" stroke="#000080" stroke-width="0.2" font-size="9.8">PGND</text>
<text transform="translate(173.70,277) scale(0.930,1)" fill="#000080" stroke="#000080" stroke-width="0.2" font-size="9.8">CS</text>
<text transform="translate(282.41,277) scale(0.930,1)" fill="#000080" stroke="#000080" stroke-width="0.2" font-size="9.8">SS_SD</text>
<text transform="translate(173.70,307) scale(0.930,1)" fill="#000080" stroke="#000080" stroke-width="0.2" font-size="9.8">RSLOPE</text>
<text transform="translate(300.63,307) scale(0.930,1)" fill="#000080" stroke="#000080" stroke-width="0.2" font-size="9.8">FB</text>
<text transform="translate(220.60,187.2) scale(1.016,1)" fill="#0000ff" stroke="#0000ff" stroke-width="0.1" font-size="10.2" font-weight="bold">UCC2891</text>
<text transform="translate(220.60,198.2) scale(1.158,1)" fill="#0000ff" stroke="#0000ff" stroke-width="0.1" font-size="10.2" font-weight="bold">Transient</text>
<text transform="translate(226.40,209.4) scale(1.119,1)" fill="#0000ff" stroke="#0000ff" stroke-width="0.1" font-size="10.2" font-weight="bold">Model</text>
<text transform="translate(34.80,408) scale(0.779,1)" fill="#000000" stroke="#000000" stroke-width="0.2" font-size="11.1">0</text>
<text transform="translate(108.20,11) scale(0.950,1)" fill="#000080" stroke="#000080" stroke-width="0.2" font-size="9.8">Rin2</text>
<text transform="translate(108.20,51) scale(0.950,1)" fill="#000080" stroke="#000080" stroke-width="0.2" font-size="9.8">4.5k</text>
<text transform="translate(368.70,11) scale(0.950,1)" fill="#000080" stroke="#000080" stroke-width="0.2" font-size="9.8">Rin1</text>
<text transform="translate(368.50,51) scale(0.950,1)" fill="#000080" stroke="#000080" stroke-width="0.2" font-size="9.8">120k</text>
<text transform="translate(188.80,61) scale(0.916,1)" fill="#000080" stroke="#000080" stroke-width="0.2" font-size="9.8">UCC2891</text>
<text transform="translate(328.80,71) scale(0.821,1)" fill="#000080" stroke="#000080" stroke-width="0.2" font-size="9.8">U1</text>
<text transform="translate(48.70,111) scale(0.950,1)" fill="#000080" stroke="#000080" stroke-width="0.2" font-size="9.8">15k</text>
<text transform="translate(88.20,111) scale(0.950,1)" fill="#000080" stroke="#000080" stroke-width="0.2" font-size="9.8">Rdel</text>
<text transform="translate(48.70,141) scale(0.950,1)" fill="#000080" stroke="#000080" stroke-width="0.2" font-size="9.8">180k</text>
<text transform="translate(78.70,141) scale(0.950,1)" fill="#000080" stroke="#000080" stroke-width="0.2" font-size="9.8">Ron</text>
<text transform="translate(48.30,171) scale(0.920,1)" fill="#000080" stroke="#000080" stroke-width="0.2" font-size="9.8">200k</text>
<text transform="translate(78.70,171) scale(1.076,1)" fill="#000080" stroke="#000080" stroke-width="0.2" font-size="9.8">Roff</text>
<text transform="translate(48.40,201) scale(0.999,1)" fill="#000080" stroke="#000080" stroke-width="0.2" font-size="9.8">Cvref</text>
<text transform="translate(78.40,201) scale(0.950,1)" fill="#000080" stroke="#000080" stroke-width="0.2" font-size="9.8">0.1u</text>
<text transform="translate(48.50,213.6) scale(0.950,1)" fill="#000080" stroke="#000080" stroke-width="0.2" font-size="9.8">IC = 5</text>
<text transform="translate(63.40,261) scale(0.943,1)" fill="#000080" stroke="#000080" stroke-width="0.2" font-size="9.8">Ccs</text>
<text transform="translate(63.30,286) scale(0.881,1)" fill="#000080" stroke="#000080" stroke-width="0.2" font-size="9.8">220p</text>
<text transform="translate(38.50,321) scale(0.950,1)" fill="#000080" stroke="#000080" stroke-width="0.2" font-size="9.8">158k</text>
<text transform="translate(68.70,321) scale(0.950,1)" fill="#000080" stroke="#000080" stroke-width="0.2" font-size="9.8">Rslope</text>
<text transform="translate(38.70,381) scale(0.961,1)" fill="#000080" stroke="#000080" stroke-width="0.2" font-size="9.8">Css</text>
<text transform="translate(58.40,381) scale(0.880,1)" fill="#000080" stroke="#000080" stroke-width="0.2" font-size="9.8">90n</text>
<text transform="translate(188.60,361) scale(0.973,1)" fill="#000080" stroke="#000080" stroke-width="0.2" font-size="9.8">Rcs</text>
<text transform="translate(229.20,361) scale(0.857,1)" fill="#000080" stroke="#000080" stroke-width="0.2" font-size="9.8">1k</text>
<text transform="translate(408.80,151) scale(0.950,1)" fill="#000080" stroke="#000080" stroke-width="0.2" font-size="9.8">Cbias</text>
<text transform="translate(388.50,171) scale(0.890,1)" fill="#000080" stroke="#000080" stroke-width="0.2" font-size="9.8">400u</text>
<text transform="translate(408.70,201) scale(0.950,1)" fill="#000080" stroke="#000080" stroke-width="0.2" font-size="9.8">1k</text>
<text transform="translate(428.60,201) scale(0.950,1)" fill="#000080" stroke="#000080" stroke-width="0.2" font-size="9.8">Rout</text>
<text transform="translate(408.70,231) scale(0.950,1)" fill="#000080" stroke="#000080" stroke-width="0.2" font-size="9.8">1k</text>
<text transform="translate(428.60,231) scale(0.950,1)" fill="#000080" stroke="#000080" stroke-width="0.2" font-size="9.8">Raux</text>
<text transform="translate(543.60,282) scale(0.850,1)" fill="#000080" stroke="#000080" stroke-width="0.2" font-size="9.8">V4</text>
<text transform="translate(597.30,289) scale(0.950,1)" fill="#000080" stroke="#000080" stroke-width="0.2" font-size="9.8">V1</text>
<text transform="translate(647.30,289) scale(0.950,1)" fill="#000080" stroke="#000080" stroke-width="0.2" font-size="9.8">V2</text>
<text transform="translate(697.30,289) scale(0.950,1)" fill="#000080" stroke="#000080" stroke-width="0.2" font-size="9.8">V3</text>
<text transform="translate(528.20,251) scale(0.950,1)" fill="#000000" stroke="#000000" stroke-width="0.2" font-size="9.8">Vcs</text>
<text transform="translate(544.80,358) scale(0.779,1)" fill="#000000" stroke="#000000" stroke-width="0.2" font-size="11.1">0</text>
<text transform="translate(578.50,251) scale(0.950,1)" fill="#000000" stroke="#000000" stroke-width="0.2" font-size="9.8">Vin</text>
<text transform="translate(594.80,358) scale(0.779,1)" fill="#000000" stroke="#000000" stroke-width="0.2" font-size="11.1">0</text>
<text transform="translate(628.30,251) scale(0.950,1)" fill="#000000" stroke="#000000" stroke-width="0.2" font-size="9.8">Vfb</text>
<text transform="translate(644.80,358) scale(0.779,1)" fill="#000000" stroke="#000000" stroke-width="0.2" font-size="11.1">0</text>
<text transform="translate(677.60,251) scale(0.950,1)" fill="#000000" stroke="#000000" stroke-width="0.2" font-size="9.8">VDD</text>
<text transform="translate(694.80,358) scale(0.779,1)" fill="#000000" stroke="#000000" stroke-width="0.2" font-size="11.1">0</text>
<text transform="translate(478.30,282.5) scale(0.925,1)" fill="#000000" stroke="#000000" stroke-width="0.2" font-size="9.8">V1 = 0</text>
<text transform="translate(478.30,290.9) scale(0.925,1)" fill="#000000" stroke="#000000" stroke-width="0.2" font-size="9.8">V2 = 0.75</text>
<text transform="translate(478.30,300.95) scale(0.925,1)" fill="#000000" stroke="#000000" stroke-width="0.2" font-size="9.8">TD = 0</text>
<text transform="translate(478.30,311.0) scale(0.925,1)" fill="#000000" stroke="#000000" stroke-width="0.2" font-size="9.8">TR = 9.99u</text>
<text transform="translate(478.30,321.04999999999995) scale(0.925,1)" fill="#000000" stroke="#000000" stroke-width="0.2" font-size="9.8">TF = 5n</text>
<text transform="translate(478.30,331.09999999999997) scale(0.925,1)" fill="#000000" stroke="#000000" stroke-width="0.2" font-size="9.8">PW = 5n</text>
<text transform="translate(478.30,341.15) scale(0.925,1)" fill="#000000" stroke="#000000" stroke-width="0.2" font-size="9.8">PER = 10u</text>
<text transform="translate(558.20,321) scale(0.950,1)" fill="#000000" stroke="#000000" stroke-width="0.2" font-size="9.8">48Vdc</text>
<text transform="translate(608.20,311) scale(0.950,1)" fill="#000000" stroke="#000000" stroke-width="0.2" font-size="9.8">3Vdc</text>
<text transform="translate(658.20,301) scale(0.950,1)" fill="#000000" stroke="#000000" stroke-width="0.2" font-size="9.8">14Vdc</text>
<text transform="translate(354.90,202.9) scale(1.000,1)" fill="#40ff40" font-size="7">V</text>
<text transform="translate(354.90,232.9) scale(1.000,1)" fill="#ff5050" font-size="7">V</text>
</g>
</svg>
</body></html>
